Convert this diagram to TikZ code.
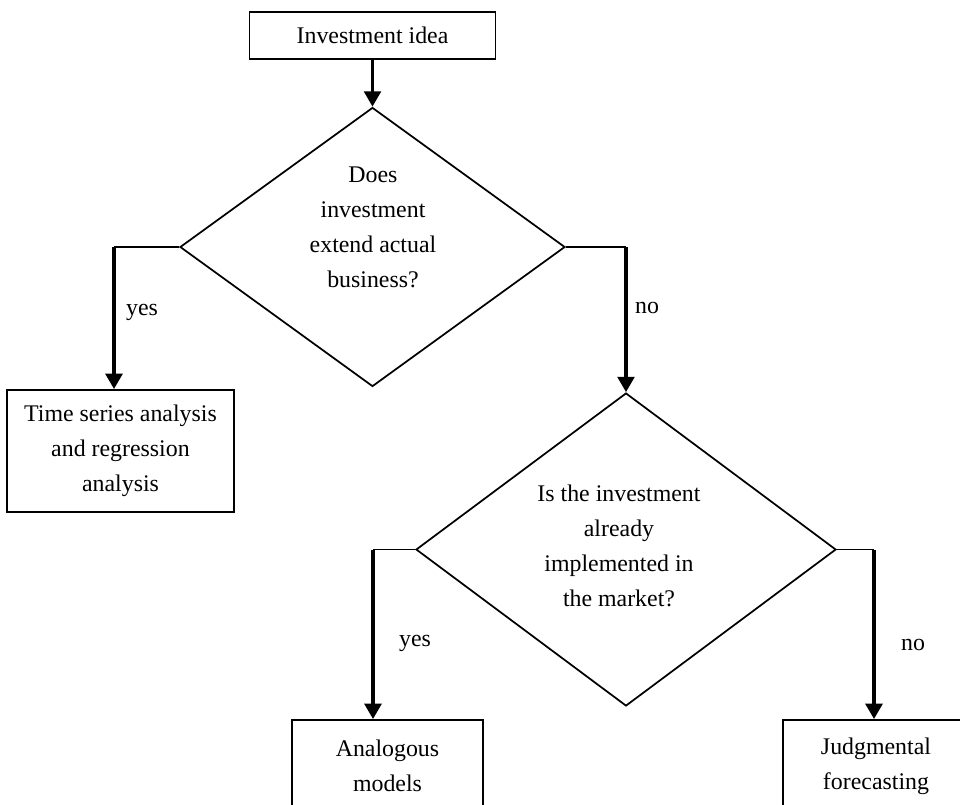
\documentclass[tikz,border=0pt]{standalone}
\usepackage{fontspec}
\setmainfont{Liberation Serif}
\usetikzlibrary{shapes.geometric,arrows.meta}
\begin{document}
\begin{tikzpicture}[x=0.75pt,y=-0.75pt,
  every node/.style={font=\fontsize{17.9}{26.3}\selectfont},
  box/.style={draw,line width=1.4pt,rectangle,inner sep=0pt,align=center},
  dia/.style={draw,line width=1.3pt,diamond,inner sep=0pt},
  txt/.style={align=center,inner sep=0pt},
  conn/.style={line width=1.3pt},
  arr/.style={line width=2.6pt,-{Triangle[length=11.5pt,width=12.5pt]}},
]
\clip (0,0) rectangle (960,804);
\fill[white] (0,0) rectangle (960,804);

% nodes
\node[box,minimum width=246*0.75pt,minimum height=47*0.75pt] (idea) at (372.5,35.5) {Investment idea};
\node[dia,minimum width=385*0.75pt,minimum height=279*0.75pt] (d1) at (372.5,247) {};
\node[txt] (d1t) at (373,227) {Does\\investment\\extend actual\\business?};
\node[box,minimum width=227*0.75pt,minimum height=122*0.75pt] (ts) at (120.5,451) {Time series analysis\\and regression\\analysis};
\node[dia,minimum width=420*0.75pt,minimum height=313*0.75pt] (d2) at (626,549.5) {};
\node[txt] (d2t) at (619,546) {Is the investment\\already\\implemented in\\the market?};
\node[box,minimum width=191*0.75pt,minimum height=92*0.75pt] (am) at (387.5,766) {Analogous\\models};
\node[box,minimum width=186*0.75pt,minimum height=92*0.75pt] (jf) at (876,766) {Judgmental\\forecasting};

% corner points
\coordinate (c1) at (114,247);
\coordinate (c2) at (626,247);
\coordinate (c3) at (373,549.5);
\coordinate (c4) at (874,549.5);

% labels
\node[txt] (l1) at (142,312) {yes};
\node[txt] (l2) at (647,308) {no};
\node[txt] (l3) at (415,643) {yes};
\node[txt] (l4) at (913,645) {no};

% connectors
\draw[arr] (idea.south) -- (d1.north);
\draw[conn] (d1.west) -- (c1);
\draw[arr] (c1) -- (c1 |- ts.north);
\draw[conn] (d1.east) -- (c2);
\draw[arr] (c2) -- (d2.north);
\draw[conn] (d2.west) -- (c3);
\draw[arr] (c3) -- (c3 |- am.north);
\draw[conn] (d2.east) -- (c4);
\draw[arr] (c4) -- (c4 |- jf.north);
\end{tikzpicture}
\end{document}
